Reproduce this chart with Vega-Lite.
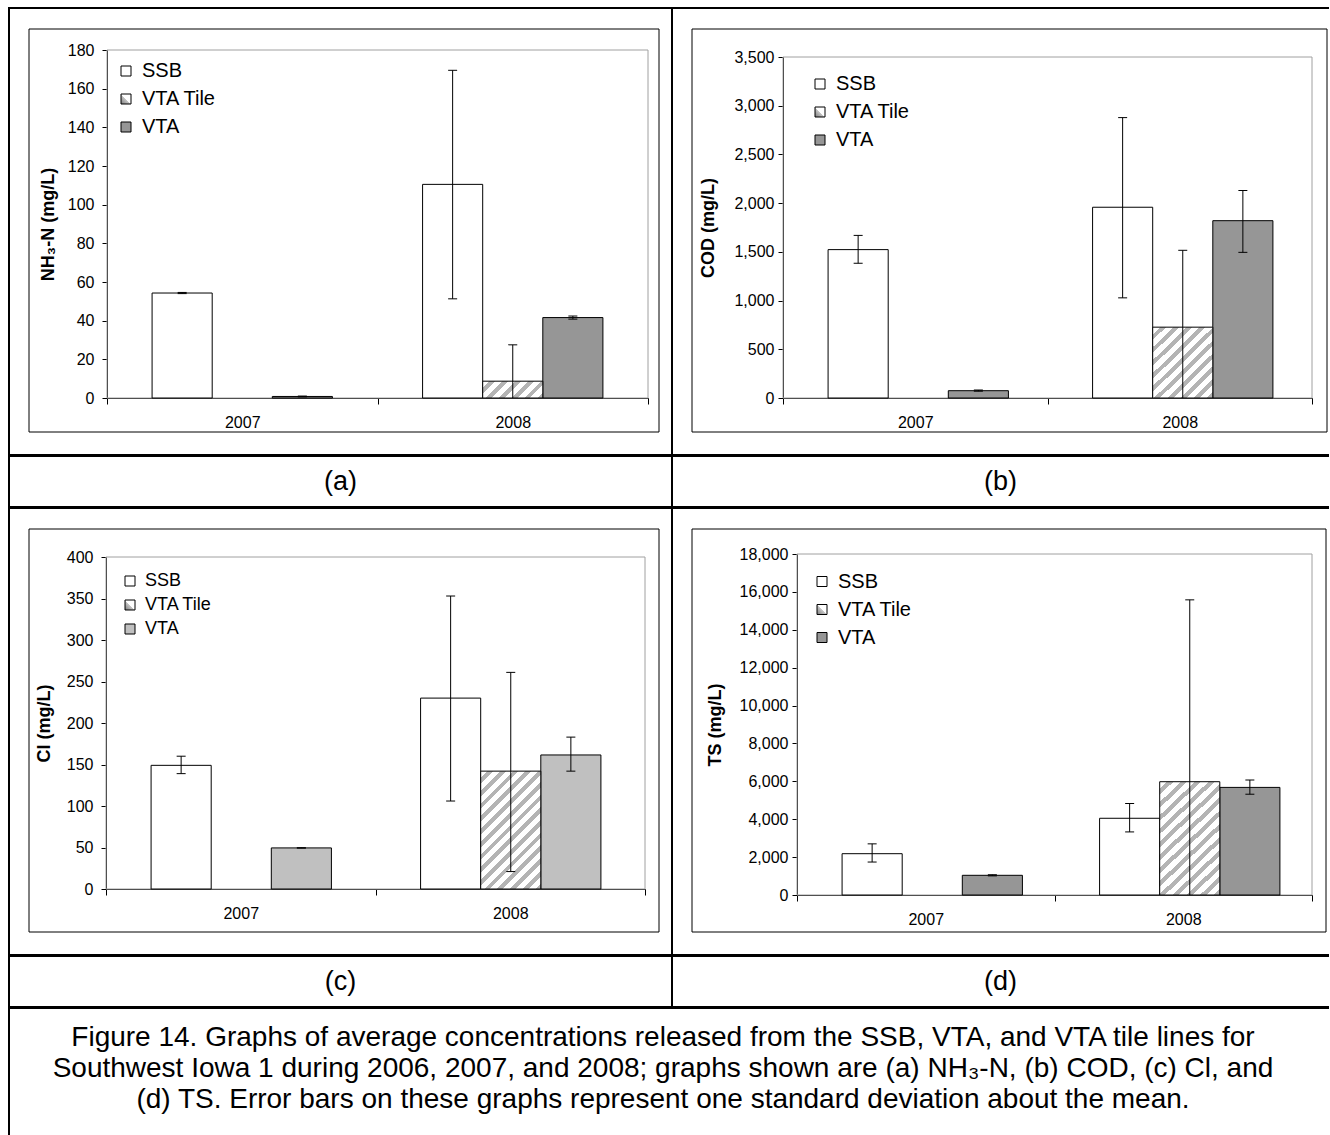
{
  "$schema": "https://vega.github.io/schema/vega-lite/v6.json",
  "background": "white",
  "padding": {"left": 8, "top": 7, "right": 0, "bottom": 0},
  "datasets": {
    "nh3": [
      {"year": "2007", "series": "SSB", "mean": 54.3, "lo": 54.0, "hi": 54.6},
      {"year": "2007", "series": "VTA", "mean": 0.8, "lo": 0.6, "hi": 1.0},
      {"year": "2008", "series": "SSB", "mean": 110.5, "lo": 51.3, "hi": 169.5},
      {"year": "2008", "series": "VTA Tile", "mean": 8.7, "lo": 0, "hi": 27.5},
      {"year": "2008", "series": "VTA", "mean": 41.6, "lo": 40.8, "hi": 42.4}
    ],
    "cod": [
      {"year": "2007", "series": "SSB", "mean": 1523, "lo": 1383, "hi": 1669},
      {"year": "2007", "series": "VTA", "mean": 75, "lo": 70, "hi": 82},
      {"year": "2008", "series": "SSB", "mean": 1958, "lo": 1028, "hi": 2878},
      {"year": "2008", "series": "VTA Tile", "mean": 727, "lo": 0, "hi": 1516},
      {"year": "2008", "series": "VTA", "mean": 1820, "lo": 1495, "hi": 2130}
    ],
    "cl": [
      {"year": "2007", "series": "SSB", "mean": 149, "lo": 139, "hi": 160},
      {"year": "2007", "series": "VTA", "mean": 49.5, "lo": 49.3, "hi": 49.7},
      {"year": "2008", "series": "SSB", "mean": 230, "lo": 106, "hi": 353},
      {"year": "2008", "series": "VTA Tile", "mean": 142, "lo": 21, "hi": 261},
      {"year": "2008", "series": "VTA", "mean": 161.5, "lo": 142, "hi": 183}
    ],
    "ts": [
      {"year": "2007", "series": "SSB", "mean": 2180, "lo": 1740, "hi": 2700},
      {"year": "2007", "series": "VTA", "mean": 1040, "lo": 1010, "hi": 1070},
      {"year": "2008", "series": "SSB", "mean": 4050, "lo": 3330, "hi": 4830},
      {"year": "2008", "series": "VTA Tile", "mean": 5980, "lo": 0, "hi": 15580},
      {"year": "2008", "series": "VTA", "mean": 5680, "lo": 5320, "hi": 6070}
    ]
  },
  "spacing": -2,
  "resolve": {"scale": {"fill": "independent"}, "legend": {"fill": "independent"}},
  "vconcat": [
    {
      "bounds": "flush",
      "spacing": 0,
      "resolve": {"scale": {"fill": "independent"}, "legend": {"fill": "independent"}},
      "hconcat": [
        {
          "width": 663, "height": 447,
          "resolve": {"scale": {"x": "independent", "y": "independent"}},
          "layer": [
            {
              "data": {"values": [{"part": "chart area"}]},
              "mark": {"type": "rect", "filled": false, "stroke": "black", "strokeWidth": 1},
              "encoding": {
                "x": {"field": "part", "type": "nominal", "scale": {"range": [20, 650], "paddingInner": 0, "paddingOuter": 0}, "axis": null},
                "y": {"field": "part", "type": "nominal", "scale": {"range": [21, 424], "paddingInner": 0, "paddingOuter": 0}, "axis": null}
              }
            },
            {
              "data": {"values": [{"part": "plot area"}]},
              "mark": {"type": "rect", "filled": false, "stroke": "#a0a0a0", "strokeWidth": 1},
              "encoding": {
                "x": {"field": "part", "type": "nominal", "scale": {"range": [98, 639], "paddingInner": 0, "paddingOuter": 0}, "axis": null},
                "y": {"field": "part", "type": "nominal", "scale": {"range": [42, 390], "paddingInner": 0, "paddingOuter": 0}, "axis": null}
              }
            },
            {
              "data": {"name": "nh3"},
              "encoding": {
                "x": {"field": "year", "type": "nominal", "scale": {"domain": ["2007", "2008"], "range": [98, 639], "paddingInner": 0, "paddingOuter": 0}, "axis": {"title": null, "labelAngle": 0, "offset": -57, "tickBand": "extent", "tickSize": 6, "labelPadding": 10}},
                "xOffset": {"field": "series", "type": "nominal", "scale": {"domain": ["SSB", "VTA Tile", "VTA"], "paddingInner": 0, "paddingOuter": 0.75}}
              },
              "layer": [
                {
                  "transform": [{"filter": "datum.series !== 'VTA Tile'"}],
                  "mark": {"type": "bar", "stroke": "black", "strokeWidth": 1},
                  "encoding": {
                    "y": {"field": "mean", "type": "quantitative", "scale": {"domain": [0, 180], "range": [390, 42], "nice": false}, "axis": {"title": "NH₃-N (mg/L)", "offset": -98, "values": [0, 20, 40, 60, 80, 100, 120, 140, 160, 180], "format": "d", "tickSize": 5, "labelPadding": 8, "titleX": -59, "titleBaseline": "middle"}},
                    "fill": {"field": "series", "type": "nominal", "scale": {"domain": ["SSB", "VTA Tile", "VTA"], "range": ["#ffffff", {"signal": "{gradient: 'linear', x1: 0, y1: 1, x2: 1, y2: 0, stops: [{offset: 0, color: '#7a7a7a'}, {offset: 0.48, color: '#c8c8c8'}, {offset: 0.5, color: '#ffffff'}, {offset: 1, color: '#ffffff'}]}"}, "#969696"]}, "legend": {"title": null, "orient": "none", "legendX": 107, "legendY": 53}}
                  }
                },
                {
                  "transform": [{"filter": "datum.series === 'VTA Tile'"}],
                  "mark": {"type": "bar", "stroke": "black", "strokeWidth": 1, "fill": {"gradient": "linear", "x1": 0, "y1": 0, "x2": 1.187, "y2": 0.332, "stops": [
                    {"offset": 0, "color": "#fff"}, {"offset": 0.092, "color": "#fff"}, {"offset": 0.092, "color": "#b4b4b4"}, {"offset": 0.167, "color": "#b4b4b4"},
                    {"offset": 0.167, "color": "#fff"}, {"offset": 0.258, "color": "#fff"}, {"offset": 0.258, "color": "#b4b4b4"}, {"offset": 0.333, "color": "#b4b4b4"},
                    {"offset": 0.333, "color": "#fff"}, {"offset": 0.425, "color": "#fff"}, {"offset": 0.425, "color": "#b4b4b4"}, {"offset": 0.5, "color": "#b4b4b4"},
                    {"offset": 0.5, "color": "#fff"}, {"offset": 0.592, "color": "#fff"}, {"offset": 0.592, "color": "#b4b4b4"}, {"offset": 0.667, "color": "#b4b4b4"},
                    {"offset": 0.667, "color": "#fff"}, {"offset": 0.758, "color": "#fff"}, {"offset": 0.758, "color": "#b4b4b4"}, {"offset": 0.833, "color": "#b4b4b4"},
                    {"offset": 0.833, "color": "#fff"}, {"offset": 0.925, "color": "#fff"}, {"offset": 0.925, "color": "#b4b4b4"}, {"offset": 1, "color": "#b4b4b4"}]}},
                  "encoding": {"y": {"field": "mean", "type": "quantitative", "scale": {"domain": [0, 180], "range": [390, 42], "nice": false}, "axis": {"title": "NH₃-N (mg/L)", "offset": -98, "values": [0, 20, 40, 60, 80, 100, 120, 140, 160, 180], "format": "d", "tickSize": 5, "labelPadding": 8, "titleX": -59, "titleBaseline": "middle"}}}
                },
                {
                  "mark": {"type": "rule", "color": "black", "strokeWidth": 1},
                  "encoding": {"y": {"field": "hi", "type": "quantitative", "scale": {"domain": [0, 180], "range": [390, 42], "nice": false}, "axis": {"title": "NH₃-N (mg/L)", "offset": -98, "values": [0, 20, 40, 60, 80, 100, 120, 140, 160, 180], "format": "d", "tickSize": 5, "labelPadding": 8, "titleX": -59, "titleBaseline": "middle"}}, "y2": {"field": "lo"}}
                },
                {
                  "mark": {"type": "tick", "color": "black", "size": 9, "thickness": 1, "opacity": 1},
                  "encoding": {"y": {"field": "hi", "type": "quantitative", "scale": {"domain": [0, 180], "range": [390, 42], "nice": false}, "axis": {"title": "NH₃-N (mg/L)", "offset": -98, "values": [0, 20, 40, 60, 80, 100, 120, 140, 160, 180], "format": "d", "tickSize": 5, "labelPadding": 8, "titleX": -59, "titleBaseline": "middle"}}}
                },
                {
                  "transform": [{"filter": "datum.lo > 0"}],
                  "mark": {"type": "tick", "color": "black", "size": 9, "thickness": 1, "opacity": 1},
                  "encoding": {"y": {"field": "lo", "type": "quantitative", "scale": {"domain": [0, 180], "range": [390, 42], "nice": false}, "axis": {"title": "NH₃-N (mg/L)", "offset": -98, "values": [0, 20, 40, 60, 80, 100, 120, 140, 160, 180], "format": "d", "tickSize": 5, "labelPadding": 8, "titleX": -59, "titleBaseline": "middle"}}}
                }
              ]
            }
          ]
        },
        {
          "width": 657, "height": 447,
          "view": {"stroke": "black", "strokeWidth": 2, "strokeDash": [657, 447, 1104]},
          "resolve": {"scale": {"x": "independent", "y": "independent"}},
          "layer": [
            {
              "data": {"values": [{"part": "chart area"}]},
              "mark": {"type": "rect", "filled": false, "stroke": "black", "strokeWidth": 1},
              "encoding": {
                "x": {"field": "part", "type": "nominal", "scale": {"range": [20, 655], "paddingInner": 0, "paddingOuter": 0}, "axis": null},
                "y": {"field": "part", "type": "nominal", "scale": {"range": [21, 424], "paddingInner": 0, "paddingOuter": 0}, "axis": null}
              }
            },
            {
              "data": {"values": [{"part": "plot area"}]},
              "mark": {"type": "rect", "filled": false, "stroke": "#a0a0a0", "strokeWidth": 1},
              "encoding": {
                "x": {"field": "part", "type": "nominal", "scale": {"range": [111, 640], "paddingInner": 0, "paddingOuter": 0}, "axis": null},
                "y": {"field": "part", "type": "nominal", "scale": {"range": [49, 390], "paddingInner": 0, "paddingOuter": 0}, "axis": null}
              }
            },
            {
              "data": {"name": "cod"},
              "encoding": {
                "x": {"field": "year", "type": "nominal", "scale": {"domain": ["2007", "2008"], "range": [111, 640], "paddingInner": 0, "paddingOuter": 0}, "axis": {"title": null, "labelAngle": 0, "offset": -57, "tickBand": "extent", "tickSize": 6, "labelPadding": 10}},
                "xOffset": {"field": "series", "type": "nominal", "scale": {"domain": ["SSB", "VTA Tile", "VTA"], "paddingInner": 0, "paddingOuter": 0.75}}
              },
              "layer": [
                {
                  "transform": [{"filter": "datum.series !== 'VTA Tile'"}],
                  "mark": {"type": "bar", "stroke": "black", "strokeWidth": 1},
                  "encoding": {
                    "y": {"field": "mean", "type": "quantitative", "scale": {"domain": [0, 3500], "range": [390, 49], "nice": false}, "axis": {"title": "COD (mg/L)", "offset": -111, "values": [0, 500, 1000, 1500, 2000, 2500, 3000, 3500], "format": ",d", "tickSize": 5, "labelPadding": 4, "titleX": -75, "titleBaseline": "middle"}},
                    "fill": {"field": "series", "type": "nominal", "scale": {"domain": ["SSB", "VTA Tile", "VTA"], "range": ["#ffffff", {"signal": "{gradient: 'linear', x1: 0, y1: 1, x2: 1, y2: 0, stops: [{offset: 0, color: '#7a7a7a'}, {offset: 0.48, color: '#c8c8c8'}, {offset: 0.5, color: '#ffffff'}, {offset: 1, color: '#ffffff'}]}"}, "#969696"]}, "legend": {"title": null, "orient": "none", "legendX": 138, "legendY": 66}}
                  }
                },
                {
                  "transform": [{"filter": "datum.series === 'VTA Tile'"}],
                  "mark": {"type": "bar", "stroke": "black", "strokeWidth": 1, "fill": {"gradient": "linear", "x1": 0, "y1": 0, "x2": 0.9, "y2": 1.083, "stops": [
                    {"offset": 0, "color": "#fff"}, {"offset": 0.055, "color": "#fff"}, {"offset": 0.055, "color": "#b4b4b4"}, {"offset": 0.1, "color": "#b4b4b4"},
                    {"offset": 0.1, "color": "#fff"}, {"offset": 0.155, "color": "#fff"}, {"offset": 0.155, "color": "#b4b4b4"}, {"offset": 0.2, "color": "#b4b4b4"},
                    {"offset": 0.2, "color": "#fff"}, {"offset": 0.255, "color": "#fff"}, {"offset": 0.255, "color": "#b4b4b4"}, {"offset": 0.3, "color": "#b4b4b4"},
                    {"offset": 0.3, "color": "#fff"}, {"offset": 0.355, "color": "#fff"}, {"offset": 0.355, "color": "#b4b4b4"}, {"offset": 0.4, "color": "#b4b4b4"},
                    {"offset": 0.4, "color": "#fff"}, {"offset": 0.455, "color": "#fff"}, {"offset": 0.455, "color": "#b4b4b4"}, {"offset": 0.5, "color": "#b4b4b4"},
                    {"offset": 0.5, "color": "#fff"}, {"offset": 0.555, "color": "#fff"}, {"offset": 0.555, "color": "#b4b4b4"}, {"offset": 0.6, "color": "#b4b4b4"},
                    {"offset": 0.6, "color": "#fff"}, {"offset": 0.655, "color": "#fff"}, {"offset": 0.655, "color": "#b4b4b4"}, {"offset": 0.7, "color": "#b4b4b4"},
                    {"offset": 0.7, "color": "#fff"}, {"offset": 0.755, "color": "#fff"}, {"offset": 0.755, "color": "#b4b4b4"}, {"offset": 0.8, "color": "#b4b4b4"},
                    {"offset": 0.8, "color": "#fff"}, {"offset": 0.855, "color": "#fff"}, {"offset": 0.855, "color": "#b4b4b4"}, {"offset": 0.9, "color": "#b4b4b4"},
                    {"offset": 0.9, "color": "#fff"}, {"offset": 0.955, "color": "#fff"}, {"offset": 0.955, "color": "#b4b4b4"}, {"offset": 1, "color": "#b4b4b4"}]}},
                  "encoding": {"y": {"field": "mean", "type": "quantitative", "scale": {"domain": [0, 3500], "range": [390, 49], "nice": false}, "axis": {"title": "COD (mg/L)", "offset": -111, "values": [0, 500, 1000, 1500, 2000, 2500, 3000, 3500], "format": ",d", "tickSize": 5, "labelPadding": 4, "titleX": -75, "titleBaseline": "middle"}}}
                },
                {
                  "mark": {"type": "rule", "color": "black", "strokeWidth": 1},
                  "encoding": {"y": {"field": "hi", "type": "quantitative", "scale": {"domain": [0, 3500], "range": [390, 49], "nice": false}, "axis": {"title": "COD (mg/L)", "offset": -111, "values": [0, 500, 1000, 1500, 2000, 2500, 3000, 3500], "format": ",d", "tickSize": 5, "labelPadding": 4, "titleX": -75, "titleBaseline": "middle"}}, "y2": {"field": "lo"}}
                },
                {
                  "mark": {"type": "tick", "color": "black", "size": 9, "thickness": 1, "opacity": 1},
                  "encoding": {"y": {"field": "hi", "type": "quantitative", "scale": {"domain": [0, 3500], "range": [390, 49], "nice": false}, "axis": {"title": "COD (mg/L)", "offset": -111, "values": [0, 500, 1000, 1500, 2000, 2500, 3000, 3500], "format": ",d", "tickSize": 5, "labelPadding": 4, "titleX": -75, "titleBaseline": "middle"}}}
                },
                {
                  "transform": [{"filter": "datum.lo > 0"}],
                  "mark": {"type": "tick", "color": "black", "size": 9, "thickness": 1, "opacity": 1},
                  "encoding": {"y": {"field": "lo", "type": "quantitative", "scale": {"domain": [0, 3500], "range": [390, 49], "nice": false}, "axis": {"title": "COD (mg/L)", "offset": -111, "values": [0, 500, 1000, 1500, 2000, 2500, 3000, 3500], "format": ",d", "tickSize": 5, "labelPadding": 4, "titleX": -75, "titleBaseline": "middle"}}}
                }
              ]
            }
          ]
        }
      ]
    },
    {
      "bounds": "flush",
      "spacing": 0,
      "hconcat": [
        {"width": 663, "height": 51, "view": {"style": "cell", "stroke": "black", "strokeWidth": 2}, "data": {"values": [{"label": "(a)"}]}, "mark": {"type": "text", "fontSize": 27, "color": "black"}, "encoding": {"text": {"field": "label", "type": "nominal"}}},
        {"width": 657, "height": 51, "view": {"style": "cell", "stroke": "black", "strokeWidth": 2, "strokeDash": [657, 51, 708]}, "data": {"values": [{"label": "(b)"}]}, "mark": {"type": "text", "fontSize": 27, "color": "black"}, "encoding": {"text": {"field": "label", "type": "nominal"}}}
      ]
    },
    {
      "bounds": "flush",
      "spacing": 0,
      "resolve": {"scale": {"fill": "independent"}, "legend": {"fill": "independent"}},
      "hconcat": [
        {
          "width": 663, "height": 447,
          "resolve": {"scale": {"x": "independent", "y": "independent"}},
          "layer": [
            {
              "data": {"values": [{"part": "chart area"}]},
              "mark": {"type": "rect", "filled": false, "stroke": "black", "strokeWidth": 1},
              "encoding": {
                "x": {"field": "part", "type": "nominal", "scale": {"range": [20, 650], "paddingInner": 0, "paddingOuter": 0}, "axis": null},
                "y": {"field": "part", "type": "nominal", "scale": {"range": [21, 424], "paddingInner": 0, "paddingOuter": 0}, "axis": null}
              }
            },
            {
              "data": {"values": [{"part": "plot area"}]},
              "mark": {"type": "rect", "filled": false, "stroke": "#a0a0a0", "strokeWidth": 1},
              "encoding": {
                "x": {"field": "part", "type": "nominal", "scale": {"range": [97, 636], "paddingInner": 0, "paddingOuter": 0}, "axis": null},
                "y": {"field": "part", "type": "nominal", "scale": {"range": [49, 381], "paddingInner": 0, "paddingOuter": 0}, "axis": null}
              }
            },
            {
              "data": {"name": "cl"},
              "encoding": {
                "x": {"field": "year", "type": "nominal", "scale": {"domain": ["2007", "2008"], "range": [97, 636], "paddingInner": 0, "paddingOuter": 0}, "axis": {"title": null, "labelAngle": 0, "offset": -66, "tickBand": "extent", "tickSize": 6, "labelPadding": 10}},
                "xOffset": {"field": "series", "type": "nominal", "scale": {"domain": ["SSB", "VTA Tile", "VTA"], "paddingInner": 0, "paddingOuter": 0.75}}
              },
              "layer": [
                {
                  "transform": [{"filter": "datum.series !== 'VTA Tile'"}],
                  "mark": {"type": "bar", "stroke": "black", "strokeWidth": 1},
                  "encoding": {
                    "y": {"field": "mean", "type": "quantitative", "scale": {"domain": [0, 400], "range": [381, 49], "nice": false}, "axis": {"title": "Cl (mg/L)", "offset": -97, "values": [0, 50, 100, 150, 200, 250, 300, 350, 400], "format": "d", "tickSize": 5, "labelPadding": 8, "titleX": -62, "titleBaseline": "middle"}},
                    "fill": {"field": "series", "type": "nominal", "scale": {"domain": ["SSB", "VTA Tile", "VTA"], "range": ["#ffffff", {"signal": "{gradient: 'linear', x1: 0, y1: 1, x2: 1, y2: 0, stops: [{offset: 0, color: '#7a7a7a'}, {offset: 0.48, color: '#c8c8c8'}, {offset: 0.5, color: '#ffffff'}, {offset: 1, color: '#ffffff'}]}"}, "#c0c0c0"]}, "legend": {"title": null, "orient": "none", "legendX": 112, "legendY": 64, "labelFontSize": 18, "rowPadding": 6}}
                  }
                },
                {
                  "transform": [{"filter": "datum.series === 'VTA Tile'"}],
                  "mark": {"type": "bar", "stroke": "black", "strokeWidth": 1, "fill": {"gradient": "linear", "x1": 0, "y1": 0, "x2": 0.611, "y2": 1.198, "stops": [
                    {"offset": 0, "color": "#fff"}, {"offset": 0.0393, "color": "#fff"}, {"offset": 0.0393, "color": "#b4b4b4"}, {"offset": 0.0714, "color": "#b4b4b4"},
                    {"offset": 0.0714, "color": "#fff"}, {"offset": 0.1107, "color": "#fff"}, {"offset": 0.1107, "color": "#b4b4b4"}, {"offset": 0.1429, "color": "#b4b4b4"},
                    {"offset": 0.1429, "color": "#fff"}, {"offset": 0.1821, "color": "#fff"}, {"offset": 0.1821, "color": "#b4b4b4"}, {"offset": 0.2143, "color": "#b4b4b4"},
                    {"offset": 0.2143, "color": "#fff"}, {"offset": 0.2536, "color": "#fff"}, {"offset": 0.2536, "color": "#b4b4b4"}, {"offset": 0.2857, "color": "#b4b4b4"},
                    {"offset": 0.2857, "color": "#fff"}, {"offset": 0.325, "color": "#fff"}, {"offset": 0.325, "color": "#b4b4b4"}, {"offset": 0.3571, "color": "#b4b4b4"},
                    {"offset": 0.3571, "color": "#fff"}, {"offset": 0.3964, "color": "#fff"}, {"offset": 0.3964, "color": "#b4b4b4"}, {"offset": 0.4286, "color": "#b4b4b4"},
                    {"offset": 0.4286, "color": "#fff"}, {"offset": 0.4679, "color": "#fff"}, {"offset": 0.4679, "color": "#b4b4b4"}, {"offset": 0.5, "color": "#b4b4b4"},
                    {"offset": 0.5, "color": "#fff"}, {"offset": 0.5393, "color": "#fff"}, {"offset": 0.5393, "color": "#b4b4b4"}, {"offset": 0.5714, "color": "#b4b4b4"},
                    {"offset": 0.5714, "color": "#fff"}, {"offset": 0.6107, "color": "#fff"}, {"offset": 0.6107, "color": "#b4b4b4"}, {"offset": 0.6429, "color": "#b4b4b4"},
                    {"offset": 0.6429, "color": "#fff"}, {"offset": 0.6821, "color": "#fff"}, {"offset": 0.6821, "color": "#b4b4b4"}, {"offset": 0.7143, "color": "#b4b4b4"},
                    {"offset": 0.7143, "color": "#fff"}, {"offset": 0.7536, "color": "#fff"}, {"offset": 0.7536, "color": "#b4b4b4"}, {"offset": 0.7857, "color": "#b4b4b4"},
                    {"offset": 0.7857, "color": "#fff"}, {"offset": 0.825, "color": "#fff"}, {"offset": 0.825, "color": "#b4b4b4"}, {"offset": 0.8571, "color": "#b4b4b4"},
                    {"offset": 0.8571, "color": "#fff"}, {"offset": 0.8964, "color": "#fff"}, {"offset": 0.8964, "color": "#b4b4b4"}, {"offset": 0.9286, "color": "#b4b4b4"},
                    {"offset": 0.9286, "color": "#fff"}, {"offset": 0.9679, "color": "#fff"}, {"offset": 0.9679, "color": "#b4b4b4"}, {"offset": 1, "color": "#b4b4b4"}]}},
                  "encoding": {"y": {"field": "mean", "type": "quantitative", "scale": {"domain": [0, 400], "range": [381, 49], "nice": false}, "axis": {"title": "Cl (mg/L)", "offset": -97, "values": [0, 50, 100, 150, 200, 250, 300, 350, 400], "format": "d", "tickSize": 5, "labelPadding": 8, "titleX": -62, "titleBaseline": "middle"}}}
                },
                {
                  "mark": {"type": "rule", "color": "black", "strokeWidth": 1},
                  "encoding": {"y": {"field": "hi", "type": "quantitative", "scale": {"domain": [0, 400], "range": [381, 49], "nice": false}, "axis": {"title": "Cl (mg/L)", "offset": -97, "values": [0, 50, 100, 150, 200, 250, 300, 350, 400], "format": "d", "tickSize": 5, "labelPadding": 8, "titleX": -62, "titleBaseline": "middle"}}, "y2": {"field": "lo"}}
                },
                {
                  "mark": {"type": "tick", "color": "black", "size": 9, "thickness": 1, "opacity": 1},
                  "encoding": {"y": {"field": "hi", "type": "quantitative", "scale": {"domain": [0, 400], "range": [381, 49], "nice": false}, "axis": {"title": "Cl (mg/L)", "offset": -97, "values": [0, 50, 100, 150, 200, 250, 300, 350, 400], "format": "d", "tickSize": 5, "labelPadding": 8, "titleX": -62, "titleBaseline": "middle"}}}
                },
                {
                  "transform": [{"filter": "datum.lo > 0"}],
                  "mark": {"type": "tick", "color": "black", "size": 9, "thickness": 1, "opacity": 1},
                  "encoding": {"y": {"field": "lo", "type": "quantitative", "scale": {"domain": [0, 400], "range": [381, 49], "nice": false}, "axis": {"title": "Cl (mg/L)", "offset": -97, "values": [0, 50, 100, 150, 200, 250, 300, 350, 400], "format": "d", "tickSize": 5, "labelPadding": 8, "titleX": -62, "titleBaseline": "middle"}}}
                }
              ]
            }
          ]
        },
        {
          "width": 657, "height": 447,
          "view": {"stroke": "black", "strokeWidth": 2, "strokeDash": [657, 447, 1104]},
          "resolve": {"scale": {"x": "independent", "y": "independent"}},
          "layer": [
            {
              "data": {"values": [{"part": "chart area"}]},
              "mark": {"type": "rect", "filled": false, "stroke": "black", "strokeWidth": 1},
              "encoding": {
                "x": {"field": "part", "type": "nominal", "scale": {"range": [20, 654], "paddingInner": 0, "paddingOuter": 0}, "axis": null},
                "y": {"field": "part", "type": "nominal", "scale": {"range": [21, 424], "paddingInner": 0, "paddingOuter": 0}, "axis": null}
              }
            },
            {
              "data": {"values": [{"part": "plot area"}]},
              "mark": {"type": "rect", "filled": false, "stroke": "#a0a0a0", "strokeWidth": 1},
              "encoding": {
                "x": {"field": "part", "type": "nominal", "scale": {"range": [125, 640], "paddingInner": 0, "paddingOuter": 0}, "axis": null},
                "y": {"field": "part", "type": "nominal", "scale": {"range": [46, 387], "paddingInner": 0, "paddingOuter": 0}, "axis": null}
              }
            },
            {
              "data": {"name": "ts"},
              "encoding": {
                "x": {"field": "year", "type": "nominal", "scale": {"domain": ["2007", "2008"], "range": [125, 640], "paddingInner": 0, "paddingOuter": 0}, "axis": {"title": null, "labelAngle": 0, "offset": -60, "tickBand": "extent", "tickSize": 6, "labelPadding": 10}},
                "xOffset": {"field": "series", "type": "nominal", "scale": {"domain": ["SSB", "VTA Tile", "VTA"], "paddingInner": 0, "paddingOuter": 0.75}}
              },
              "layer": [
                {
                  "transform": [{"filter": "datum.series !== 'VTA Tile'"}],
                  "mark": {"type": "bar", "stroke": "black", "strokeWidth": 1},
                  "encoding": {
                    "y": {"field": "mean", "type": "quantitative", "scale": {"domain": [0, 18000], "range": [387, 46], "nice": false}, "axis": {"title": "TS (mg/L)", "offset": -125, "values": [0, 2000, 4000, 6000, 8000, 10000, 12000, 14000, 16000, 18000], "format": ",d", "tickSize": 5, "labelPadding": 4, "titleX": -82, "titleBaseline": "middle"}},
                    "fill": {"field": "series", "type": "nominal", "scale": {"domain": ["SSB", "VTA Tile", "VTA"], "range": ["#ffffff", {"signal": "{gradient: 'linear', x1: 0, y1: 1, x2: 1, y2: 0, stops: [{offset: 0, color: '#7a7a7a'}, {offset: 0.48, color: '#c8c8c8'}, {offset: 0.5, color: '#ffffff'}, {offset: 1, color: '#ffffff'}]}"}, "#969696"]}, "legend": {"title": null, "orient": "none", "legendX": 140, "legendY": 63.5}}
                  }
                },
                {
                  "transform": [{"filter": "datum.series === 'VTA Tile'"}],
                  "mark": {"type": "bar", "stroke": "black", "strokeWidth": 1, "fill": {"gradient": "linear", "x1": 0, "y1": 0, "x2": 0.607, "y2": 1.199, "stops": [
                    {"offset": 0, "color": "#fff"}, {"offset": 0.0423, "color": "#fff"}, {"offset": 0.0423, "color": "#b4b4b4"}, {"offset": 0.0769, "color": "#b4b4b4"},
                    {"offset": 0.0769, "color": "#fff"}, {"offset": 0.1192, "color": "#fff"}, {"offset": 0.1192, "color": "#b4b4b4"}, {"offset": 0.1538, "color": "#b4b4b4"},
                    {"offset": 0.1538, "color": "#fff"}, {"offset": 0.1962, "color": "#fff"}, {"offset": 0.1962, "color": "#b4b4b4"}, {"offset": 0.2308, "color": "#b4b4b4"},
                    {"offset": 0.2308, "color": "#fff"}, {"offset": 0.2731, "color": "#fff"}, {"offset": 0.2731, "color": "#b4b4b4"}, {"offset": 0.3077, "color": "#b4b4b4"},
                    {"offset": 0.3077, "color": "#fff"}, {"offset": 0.35, "color": "#fff"}, {"offset": 0.35, "color": "#b4b4b4"}, {"offset": 0.3846, "color": "#b4b4b4"},
                    {"offset": 0.3846, "color": "#fff"}, {"offset": 0.4269, "color": "#fff"}, {"offset": 0.4269, "color": "#b4b4b4"}, {"offset": 0.4615, "color": "#b4b4b4"},
                    {"offset": 0.4615, "color": "#fff"}, {"offset": 0.5038, "color": "#fff"}, {"offset": 0.5038, "color": "#b4b4b4"}, {"offset": 0.5385, "color": "#b4b4b4"},
                    {"offset": 0.5385, "color": "#fff"}, {"offset": 0.5808, "color": "#fff"}, {"offset": 0.5808, "color": "#b4b4b4"}, {"offset": 0.6154, "color": "#b4b4b4"},
                    {"offset": 0.6154, "color": "#fff"}, {"offset": 0.6577, "color": "#fff"}, {"offset": 0.6577, "color": "#b4b4b4"}, {"offset": 0.6923, "color": "#b4b4b4"},
                    {"offset": 0.6923, "color": "#fff"}, {"offset": 0.7346, "color": "#fff"}, {"offset": 0.7346, "color": "#b4b4b4"}, {"offset": 0.7692, "color": "#b4b4b4"},
                    {"offset": 0.7692, "color": "#fff"}, {"offset": 0.8115, "color": "#fff"}, {"offset": 0.8115, "color": "#b4b4b4"}, {"offset": 0.8462, "color": "#b4b4b4"},
                    {"offset": 0.8462, "color": "#fff"}, {"offset": 0.8885, "color": "#fff"}, {"offset": 0.8885, "color": "#b4b4b4"}, {"offset": 0.9231, "color": "#b4b4b4"},
                    {"offset": 0.9231, "color": "#fff"}, {"offset": 0.9654, "color": "#fff"}, {"offset": 0.9654, "color": "#b4b4b4"}, {"offset": 1, "color": "#b4b4b4"}]}},
                  "encoding": {"y": {"field": "mean", "type": "quantitative", "scale": {"domain": [0, 18000], "range": [387, 46], "nice": false}, "axis": {"title": "TS (mg/L)", "offset": -125, "values": [0, 2000, 4000, 6000, 8000, 10000, 12000, 14000, 16000, 18000], "format": ",d", "tickSize": 5, "labelPadding": 4, "titleX": -82, "titleBaseline": "middle"}}}
                },
                {
                  "mark": {"type": "rule", "color": "black", "strokeWidth": 1},
                  "encoding": {"y": {"field": "hi", "type": "quantitative", "scale": {"domain": [0, 18000], "range": [387, 46], "nice": false}, "axis": {"title": "TS (mg/L)", "offset": -125, "values": [0, 2000, 4000, 6000, 8000, 10000, 12000, 14000, 16000, 18000], "format": ",d", "tickSize": 5, "labelPadding": 4, "titleX": -82, "titleBaseline": "middle"}}, "y2": {"field": "lo"}}
                },
                {
                  "mark": {"type": "tick", "color": "black", "size": 9, "thickness": 1, "opacity": 1},
                  "encoding": {"y": {"field": "hi", "type": "quantitative", "scale": {"domain": [0, 18000], "range": [387, 46], "nice": false}, "axis": {"title": "TS (mg/L)", "offset": -125, "values": [0, 2000, 4000, 6000, 8000, 10000, 12000, 14000, 16000, 18000], "format": ",d", "tickSize": 5, "labelPadding": 4, "titleX": -82, "titleBaseline": "middle"}}}
                },
                {
                  "transform": [{"filter": "datum.lo > 0"}],
                  "mark": {"type": "tick", "color": "black", "size": 9, "thickness": 1, "opacity": 1},
                  "encoding": {"y": {"field": "lo", "type": "quantitative", "scale": {"domain": [0, 18000], "range": [387, 46], "nice": false}, "axis": {"title": "TS (mg/L)", "offset": -125, "values": [0, 2000, 4000, 6000, 8000, 10000, 12000, 14000, 16000, 18000], "format": ",d", "tickSize": 5, "labelPadding": 4, "titleX": -82, "titleBaseline": "middle"}}}
                }
              ]
            }
          ]
        }
      ]
    },
    {
      "bounds": "flush",
      "spacing": 0,
      "hconcat": [
        {"width": 663, "height": 51, "view": {"style": "cell", "stroke": "black", "strokeWidth": 2}, "data": {"values": [{"label": "(c)"}]}, "mark": {"type": "text", "fontSize": 27, "color": "black"}, "encoding": {"text": {"field": "label", "type": "nominal"}}},
        {"width": 657, "height": 51, "view": {"style": "cell", "stroke": "black", "strokeWidth": 2, "strokeDash": [657, 51, 708]}, "data": {"values": [{"label": "(d)"}]}, "mark": {"type": "text", "fontSize": 27, "color": "black"}, "encoding": {"text": {"field": "label", "type": "nominal"}}}
      ]
    },
    {
      "width": 1320, "height": 128,
      "view": {"style": "cell", "stroke": "black", "strokeWidth": 2, "strokeDash": [1320, 1448, 128]},
      "data": {"values": [{"caption": "Figure 14. Graphs of average concentrations released from the SSB, VTA, and VTA tile lines for\nSouthwest Iowa 1 during 2006, 2007, and 2008; graphs shown are (a) NH₃-N, (b) COD, (c) Cl, and\n(d) TS. Error bars on these graphs represent one standard deviation about the mean."}]},
      "mark": {"type": "text", "fontSize": 28, "lineBreak": "\n", "lineHeight": 31, "dx": -6, "dy": -34, "color": "black"},
      "encoding": {"text": {"field": "caption", "type": "nominal"}}
    }
  ],
  "config": {
    "font": "Liberation Sans",
    "view": {"stroke": "black", "strokeWidth": 2},
    "axis": {"labelFont": "Liberation Sans", "labelFontSize": 16, "labelColor": "black", "titleFont": "Liberation Sans", "titleFontSize": 18, "titleFontWeight": "bold", "titleColor": "black", "domainColor": "black", "tickColor": "black", "grid": false, "zindex": 1},
    "legend": {"labelFont": "Liberation Sans", "labelFontSize": 20, "labelColor": "black", "symbolType": "square", "symbolSize": 100, "symbolStrokeColor": "black", "symbolStrokeWidth": 1, "rowPadding": 8, "labelOffset": 6, "padding": 0},
    "text": {"font": "Liberation Sans"}
  }
}
